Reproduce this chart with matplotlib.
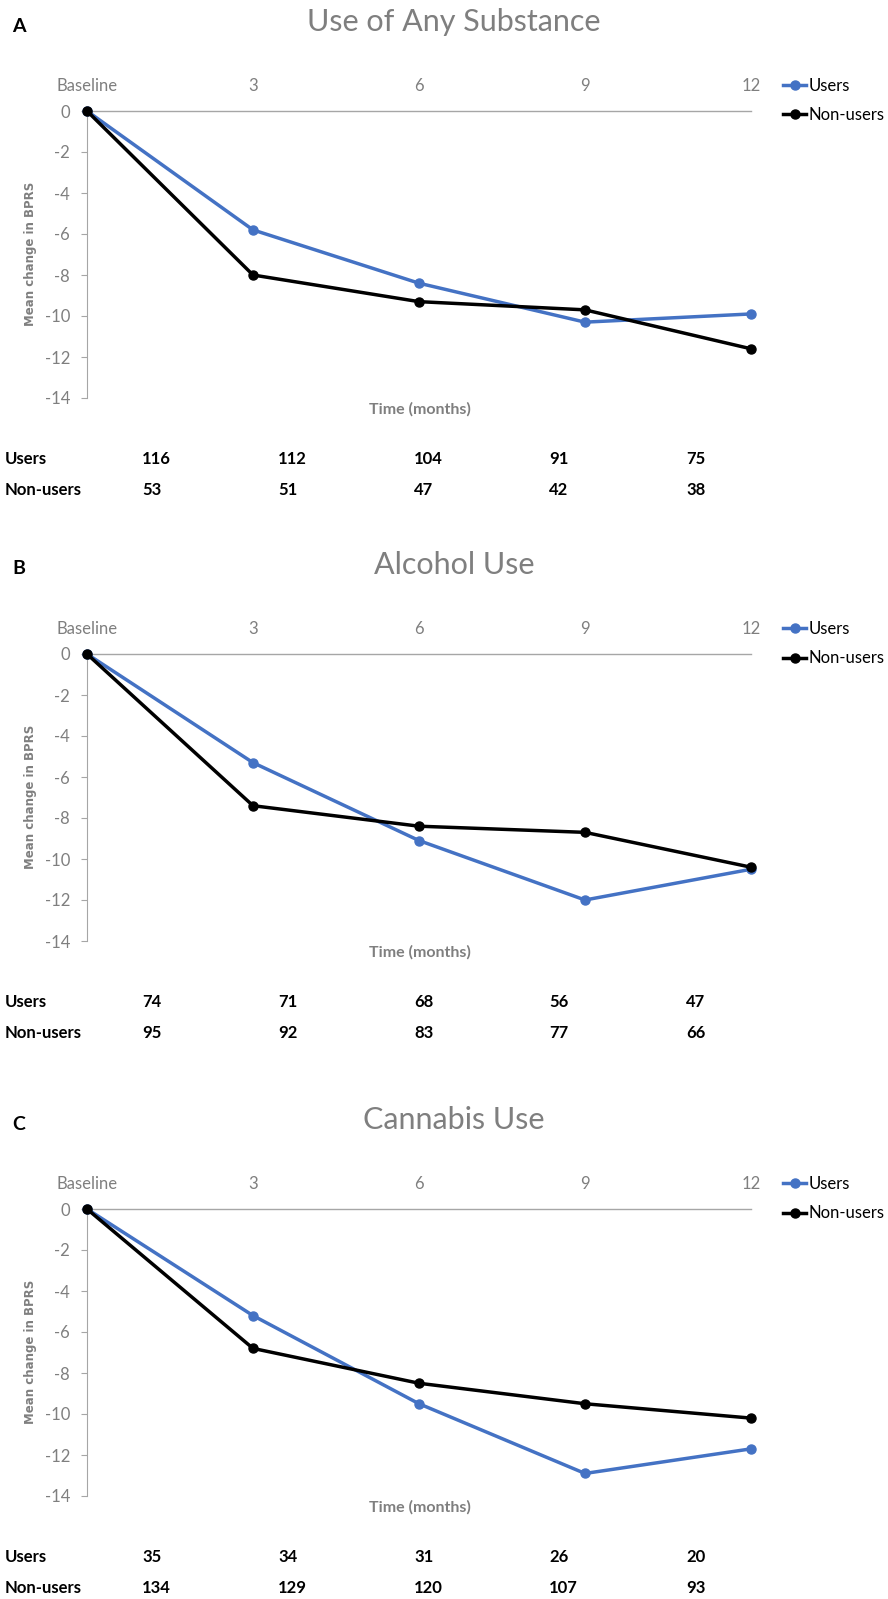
import matplotlib
matplotlib.use('Agg')
import matplotlib.pyplot as plt

plt.rcParams['axes.unicode_minus'] = False

# time points (x categories) and follow-up counts
time_labels = ['Baseline', '3', '6', '9', '12']
panel_letters = ['A', 'B', 'C']
panel_titles = ['Use of Any Substance', 'Alcohol Use', 'Cannabis Use']

# mean change in BPRS
users_any = [0, -5.8, -8.4, -10.3, -9.9]
nonusers_any = [0, -8.0, -9.3, -9.7, -11.6]
users_alcohol = [0, -5.3, -9.1, -12.0, -10.5]
nonusers_alcohol = [0, -7.4, -8.4, -8.7, -10.4]
users_cannabis = [0, -5.2, -9.5, -12.9, -11.7]
nonusers_cannabis = [0, -6.8, -8.5, -9.5, -10.2]

# number of participants at each time point
n_users_any = [116, 112, 104, 91, 75]
n_nonusers_any = [53, 51, 47, 42, 38]
n_users_alcohol = [74, 71, 68, 56, 47]
n_nonusers_alcohol = [95, 92, 83, 77, 66]
n_users_cannabis = [35, 34, 31, 26, 20]
n_nonusers_cannabis = [134, 129, 120, 107, 93]

users_series = [users_any, users_alcohol, users_cannabis]
nonusers_series = [nonusers_any, nonusers_alcohol, nonusers_cannabis]
n_users = [n_users_any, n_users_alcohol, n_users_cannabis]
n_nonusers = [n_nonusers_any, n_nonusers_alcohol, n_nonusers_cannabis]

W, H = 888, 1599
BLUE = '#4472C4'
GRAY = '#7f7f7f'
AXGRAY = '#a6a6a6'
CAL = 'Lato'

fig = plt.figure(figsize=(W / 100, H / 100), dpi=100)


def fx(px):
    return px / W


def fy(py):
    return 1 - py / H


zero_rows = [111, 654, 1209]   # pixel row of the zero line in each panel
ax_left, ax_right, ax_h = 87, 751, 287
count_cols = [142, 278, 414, 549, 686]

for i, z in enumerate(zero_rows):
    ax = fig.add_axes([fx(ax_left), fy(z + ax_h), fx(ax_right - ax_left), ax_h / H])
    x = range(len(time_labels))
    ax.plot(x, users_series[i], color=BLUE, lw=2.5, marker='o', ms=6.5,
            clip_on=False, zorder=3, label='Users')
    ax.plot(x, nonusers_series[i], color='black', lw=2.5, marker='o', ms=6.5,
            clip_on=False, zorder=4, label='Non-users')
    ax.set_xlim(0, 4)
    ax.set_ylim(-14, 0)
    ax.set_yticks(range(0, -15, -2))
    ax.set_xticks(list(x))
    ax.set_xticklabels(time_labels)
    ax.xaxis.tick_top()
    ax.tick_params(axis='x', length=0, pad=12, labelsize=12, labelcolor=GRAY)
    ax.tick_params(axis='y', length=4.3, width=0.8, color=AXGRAY, pad=8,
                   labelsize=12, labelcolor=GRAY)
    for lab in ax.get_xticklabels() + ax.get_yticklabels():
        lab.set_family(CAL)
    for s in ['right', 'bottom']:
        ax.spines[s].set_visible(False)
    ax.spines['top'].set_color(AXGRAY)
    ax.spines['left'].set_color(AXGRAY)
    ax.spines['top'].set_linewidth(1.0)
    ax.spines['left'].set_linewidth(0.8)
    ax.patch.set_alpha(0)

    ax.legend(loc='upper left', bbox_to_anchor=(fx(783), fy(z - 33)),
              bbox_transform=fig.transFigure, frameon=False,
              handlelength=1.4, handletextpad=0.15, labelspacing=0.8,
              borderpad=0, borderaxespad=0,
              prop={'family': CAL, 'size': 12})

    fig.text(fx(454), fy(z - 89), panel_titles[i], ha='center', va='center',
             family=CAL, fontsize=22, color=GRAY)
    fig.text(fx(19), fy(z - 85), panel_letters[i], ha='center', va='center',
             family=CAL, fontweight='bold', fontsize=14, color='black')
    fig.text(fx(31), fy(z + 143), 'Mean change in BPRS', rotation=90,
             ha='center', va='center', family='DejaVu Sans', fontweight='bold',
             fontsize=8.5, color=GRAY)
    fig.text(fx(420), fy(z + 298), 'Time (months)', ha='center', va='center',
             family=CAL, fontweight='bold', fontsize=11.5, color=GRAY)

    fig.text(fx(5), fy(z + 348), 'Users', ha='left', va='center',
             family=CAL, fontweight='bold', fontsize=12)
    fig.text(fx(5), fy(z + 379), 'Non-users', ha='left', va='center',
             family=CAL, fontweight='bold', fontsize=12)
    for cx, nu, nn in zip(count_cols, n_users[i], n_nonusers[i]):
        fig.text(fx(cx), fy(z + 348), str(nu), ha='left', va='center',
                 family=CAL, fontweight='bold', fontsize=12)
        fig.text(fx(cx), fy(z + 379), str(nn), ha='left', va='center',
                 family=CAL, fontweight='bold', fontsize=12)

fig.savefig('out.png', dpi=100, facecolor='white')
